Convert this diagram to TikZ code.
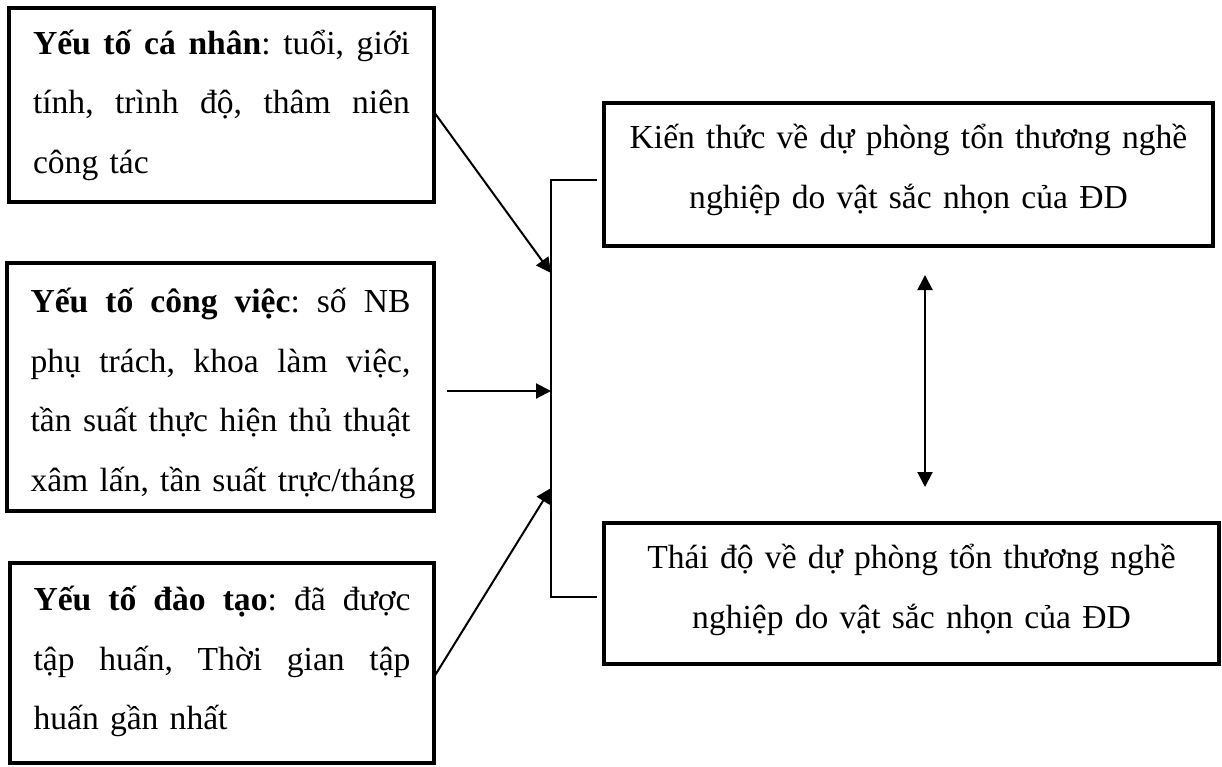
\documentclass[tikz,border=0pt]{standalone}
\usepackage{fontspec}
\setmainfont{Liberation Serif}
\usetikzlibrary{arrows.meta,calc}
\newcommand{\jline}[2]{\leavevmode\hbox to #1{\frenchspacing\spaceskip=.25em plus 1fil\relax #2}}
\begin{document}
\begin{tikzpicture}[x=1pt,y=-1pt,
  boxbase/.style={draw,line width=4pt,rectangle,anchor=north west,inner sep=0pt,outer sep=0pt},
  factor/.style={boxbase,align=left,font=\fontsize{33.6}{59.5}\selectfont},
  outcome/.style={boxbase,align=center,font=\fontsize{33.6}{60}\selectfont},
  link/.style={line width=2pt},
  arr/.style={link,-{Triangle[length=15pt,width=15pt]}},
  darr/.style={link,{Triangle[length=15pt,width=15pt]}-{Triangle[length=15pt,width=15pt]}}]
\useasboundingbox (0,0) rectangle (1222,766);
\clip (0,0) rectangle (1222,766);

\node[factor,minimum width=425pt,minimum height=194pt,text width=377pt] (b1) at (9,8)
 {\jline{377pt}{\textbf{Yếu tố cá nhân}: tuổi, giới}\\
  \jline{377pt}{tính, trình độ, thâm niên}\\
  công tác};

\node[factor,minimum width=427pt,minimum height=248pt,text width=380pt] (b2) at (7,263)
 {\rule{0pt}{37pt}\jline{380pt}{\textbf{Yếu tố công việc}: số NB}\\
  \jline{380pt}{phụ trách, khoa làm việc,}\\
  \jline{380pt}{tần suất thực hiện thủ thuật}\\
  \mbox{xâm lấn, tần suất trực/tháng}};

\node[factor,minimum width=424pt,minimum height=200pt,text width=377pt] (b3) at (10,563)
 {\jline{377pt}{\textbf{Yếu tố đào tạo}: đã được}\\
  \jline{377pt}{tập huấn, Thời gian tập}\\
  huấn gần nhất\rule[-10pt]{0pt}{0pt}};

\node[outcome,minimum width=609pt,minimum height=143pt,text width=590pt] (K) at (604,103)
 {Kiến thức về dự phòng tổn thương nghề\\nghiệp do vật sắc nhọn của ĐD\rule[-15.5pt]{0pt}{0pt}};

\node[outcome,minimum width=615pt,minimum height=141pt,text width=596pt] (T) at (604,523)
 {Thái độ về dự phòng tổn thương nghề\\nghiệp do vật sắc nhọn của ĐD\rule[-13.5pt]{0pt}{0pt}};

% trunk
\coordinate (tt) at (551,180);
\coordinate (tb) at (551,597);
\coordinate (a1) at (551,273);
\coordinate (a2) at (551,391);
\coordinate (a3) at (551,488);
\draw[link] ($(K.west |- tt)+(-7,0)$) -- (tt) -- (tb) -- ($(T.west |- tb)+(-7,0)$);

\draw[arr] ([yshift=-7pt]b1.east) -- (a1);
\draw[arr] ($(b2.east |- a2)+(13,0)$) -- (a2);
\draw[arr] ([yshift=-14pt]b3.east) -- (a3);

\draw[darr] ($(K.south west)+(321,29)$) -- ($(T.north west)+(321,-36)$);
\end{tikzpicture}
\end{document}
